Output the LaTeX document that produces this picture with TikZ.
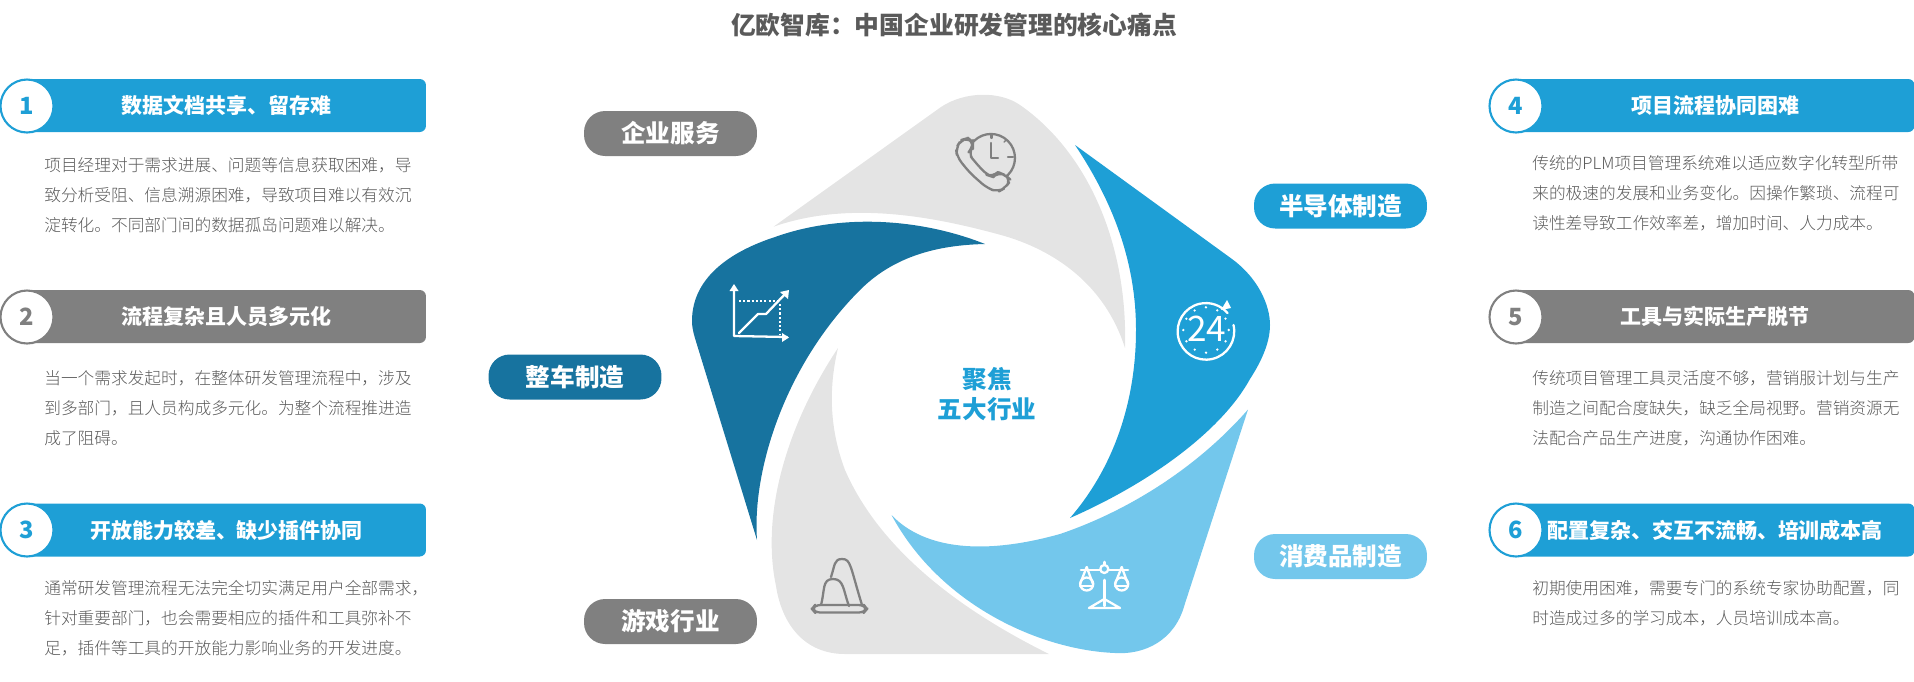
\documentclass[tikz,border=0pt]{standalone}
\usepackage{fontspec}
\setmainfont{Noto Sans CJK SC}
\newfontfamily\lightcjk{Noto Sans CJK SC Light}
\definecolor{barblue}{HTML}{1E9FD6}
\definecolor{darkblue}{HTML}{17739F}
\definecolor{lightblue}{HTML}{73C7EC}
\definecolor{petalgrey}{HTML}{E4E4E4}
\definecolor{midgrey}{HTML}{808080}
\definecolor{bodygrey}{HTML}{5A5A5A}
\tikzset{
    bar/.style={rectangle, rounded corners=3.5pt, minimum width=7.98cm, minimum height=1.06cm, inner sep=0pt, text=white, font=\fontsize{11.95}{14}\selectfont\bfseries},
    num/.style={circle, fill=white, line width=1.2pt, minimum size=1.06cm, inner sep=0pt, font=\fontsize{13.5}{16}\selectfont\bfseries},
    pill/.style={rectangle, rounded corners=12pt, minimum width=3.46cm, minimum height=0.9cm, inner sep=0pt, text=white, font=\fontsize{14}{16}\selectfont\bfseries},
    body/.style={anchor=west, align=left, inner sep=0pt, text=bodygrey, font=\lightcjk\fontsize{9.5}{17.07}\selectfont},
    icongrey/.style={draw=midgrey, line width=1.3pt, line join=round, line cap=round},
    iconwhite/.style={draw=white, line width=1.3pt, line join=round, line cap=round}
}
\begin{document}
\begin{tikzpicture}[x=0.02cm, y=-0.02cm]
    \useasboundingbox (0, 0) rectangle (1914, 681);

    \node[text=bodygrey, font=\fontsize{14.1}{16}\selectfont\bfseries] (title) at (954, 25) {亿欧智库：中国企业研发管理的核心痛点};

    \fill[petalgrey] (773.5, 226.7) -- (941, 107) .. controls (965, 91) and (1000, 91) .. (1020, 105) .. controls (1085, 150) and (1128, 240) .. (1125, 348) .. controls (1105, 285) and (1055, 250) .. (1001, 235) .. controls (935, 217) and (850, 200) .. (773.5, 226.7) -- cycle;
    \fill[darkblue] (985, 244) .. controls (925, 220) and (845, 212) .. (775, 237) .. controls (735, 250) and (692, 275) .. (692, 321) .. controls (692, 330) and (695, 338) .. (698, 348) -- (757, 540) .. controls (752, 470) and (785, 365) .. (860, 290) .. controls (895, 255) and (940, 245) .. (985, 244) -- cycle;
    \fill[barblue] (1075, 145) -- (1232, 259) .. controls (1258, 278) and (1270, 305) .. (1270, 325) .. controls (1270, 345) and (1259, 365) .. (1250, 379) .. controls (1222, 430) and (1152, 482) .. (1070, 518) .. controls (1120, 460) and (1136, 390) .. (1136, 330) .. controls (1136, 265) and (1115, 205) .. (1075, 145) -- cycle;
    \fill[lightblue] (1248, 409.5) -- (1184.5, 605) .. controls (1175, 640) and (1145, 655) .. (1115, 653) .. controls (1040, 650) and (940, 605) .. (891.5, 515) .. controls (925, 550) and (985, 555) .. (1060, 534) .. controls (1125, 512) and (1195, 470) .. (1248, 409.5) -- cycle;
    \fill[petalgrey] (838, 348) .. controls (790, 420) and (760, 510) .. (776, 586) .. controls (782, 625) and (805, 654) .. (845, 654) -- (1049, 654) .. controls (960, 610) and (880, 550) .. (845, 470) .. controls (830, 430) and (828, 390) .. (838, 348) -- cycle;

    \node[align=center, text=barblue, font=\fontsize{14}{17}\selectfont\bfseries] (focus) at (987, 394) {聚焦\\五大行业};

    \node[pill, fill=midgrey] (service) at (670.5, 133.5) {企业服务};
    \node[pill, fill=darkblue] (vehicle) at (575, 377) {整车制造};
    \node[pill, fill=midgrey] (game) at (670.5, 621.5) {游戏行业};
    \node[pill, fill=barblue] (chip) at (1340.5, 206) {半导体制造};
    \node[pill, fill=lightblue] (goods) at (1340.5, 556.5) {消费品制造};

    \node[bar, fill=barblue] (bar1) at (226.5, 105.5) {数据文档共享、留存难};
    \node[bar, fill=midgrey] (bar2) at (226.5, 316.5) {流程复杂且人员多元化};
    \node[bar, fill=barblue] (bar3) at (226.5, 530) {开放能力较差、缺少插件协同};
    \node[bar, fill=barblue] (bar4) at (1715, 105.5) {项目流程协同困难};
    \node[bar, fill=midgrey] (bar5) at (1715, 316.5) {工具与实际生产脱节};
    \node[bar, fill=barblue] (bar6) at (1715, 530) {配置复杂、交互不流畅、培训成本高};

    \node[num, draw=barblue, text=barblue] (num1) at (27, 106) {1};
    \node[num, draw=midgrey, text=midgrey] (num2) at (27, 317) {2};
    \node[num, draw=barblue, text=barblue] (num3) at (27, 530) {3};
    \node[num, draw=barblue, text=barblue] (num4) at (1516, 106) {4};
    \node[num, draw=midgrey, text=midgrey] (num5) at (1516, 317) {5};
    \node[num, draw=barblue, text=barblue] (num6) at (1516, 530) {6};

    \node[body] (text1) at (44, 195) {项目经理对于需求进展、问题等信息获取困难，导\\致分析受阻、信息溯源困难，导致项目难以有效沉\\淀转化。不同部门间的数据孤岛问题难以解决。};
    \node[body] (text2) at (44, 408) {当一个需求发起时，在整体研发管理流程中，涉及\\到多部门，且人员构成多元化。为整个流程推进造\\成了阻碍。};
    \node[body] (text3) at (44, 618) {通常研发管理流程无法完全切实满足用户全部需求，\\针对重要部门，也会需要相应的插件和工具弥补不\\足，插件等工具的开放能力影响业务的开发进度。};
    \node[body] (text4) at (1532, 193) {传统的PLM项目管理系统难以适应数字化转型所带\\来的极速的发展和业务变化。因操作繁琐、流程可\\读性差导致工作效率差，增加时间、人力成本。};
    \node[body] (text5) at (1532, 408) {传统项目管理工具灵活度不够，营销服计划与生产\\制造之间配合度缺失，缺乏全局视野。营销资源无\\法配合产品生产进度，沟通协作困难。};
    \node[body] (text6) at (1532, 603) {初期使用困难，需要专门的系统专家协助配置，同\\时造成过多的学习成本，人员培训成本高。};

    \draw[icongrey] (974, 141) arc (-135:130:24);
    \draw[icongrey] (991, 143) -- (991, 158) -- (998, 158);
    \draw[icongrey] (991.5, 135) -- (991.5, 138);
    \draw[icongrey] (1008, 157) -- (1013, 157);
    \draw[icongrey, line width=0.8pt] (1004, 142) -- (1006, 140);
    \draw[icongrey, fill=petalgrey, rounded corners=4pt] (973, 142) -- (968, 138) -- (961, 140) -- (956, 148) -- (957, 157) -- (970, 173) -- (987, 188) -- (998, 192) -- (1005, 188) -- (1011, 180) -- (1005, 175) -- (998, 172) -- (993, 177) -- (987, 175) -- (975, 162) -- (968, 153) -- (973, 147) -- cycle;

    \draw[iconwhite] (734, 288) -- (734, 336) -- (787, 337);
    \fill[white] (734, 284) -- (738.5, 291) -- (729.5, 291) -- cycle;
    \fill[white] (789, 337.5) -- (782, 333) -- (782, 342) -- cycle;
    \draw[iconwhite] (739, 333) -- (758, 314) -- (766, 314) -- (786, 293);
    \fill[white] (789, 290) -- (788, 299) -- (780, 292) -- cycle;
    \draw[iconwhite, line width=1pt, dash pattern=on 1.2pt off 1.2pt, line cap=butt] (739, 301) -- (780, 301);
    \draw[iconwhite, line width=1pt, dash pattern=on 1.2pt off 1.2pt, line cap=butt] (780, 304) -- (780, 335);

    \draw[iconwhite] (1233.5, 325) arc (-13:320:28.3);
    \fill[white] (1231, 308) -- (1221, 310) -- (1227, 300) -- cycle;
    \draw[white, line width=1.5pt, line cap=round, dash pattern=on 0pt off 6.75pt] (1206, 330) circle (22.7);
    \node[text=white, inner sep=0pt, font=\fontsize{20}{22}\selectfont] (hours) at (1206.5, 329) {24};

    \draw[iconwhite, line width=1.5pt] (1104.3, 580) -- (1104.3, 606);
    \draw[iconwhite, line width=1.5pt] (1104.3, 562) -- (1104.3, 566);
    \draw[iconwhite, line width=1.5pt] (1081, 570) -- (1128, 570);
    \draw[iconwhite, fill=lightblue] (1104.3, 569) circle (4);
    \draw[iconwhite] (1086.7, 567) -- (1080, 584);
    \draw[iconwhite] (1086.7, 567) -- (1093, 584);
    \draw[iconwhite] (1121.7, 567) -- (1115, 584);
    \draw[iconwhite] (1121.7, 567) -- (1128, 584);
    \draw[iconwhite] (1086.7, 584) circle (6.5);
    \draw[iconwhite] (1121.7, 584) circle (6.5);
    \draw[iconwhite] (1080, 586) -- (1093, 586);
    \draw[iconwhite] (1115, 586) -- (1128, 586);
    \draw[iconwhite] (1104.3, 599) -- (1089, 608) -- (1120, 608) -- cycle;

    \draw[icongrey, rounded corners=3pt] (815, 605) -- (864, 605) -- (867, 609) -- (864, 612.5) -- (815, 612.5) -- (812, 609) -- cycle;
    \draw[icongrey] (821, 605) .. controls (825, 590) and (822, 579) .. (833, 579) .. controls (844, 579) and (843, 590) .. (849, 606);
    \draw[icongrey] (831, 577) .. controls (835, 565) and (834, 559) .. (842, 559) .. controls (851, 559) and (850, 566) .. (862, 605);
\end{tikzpicture}
\end{document}
